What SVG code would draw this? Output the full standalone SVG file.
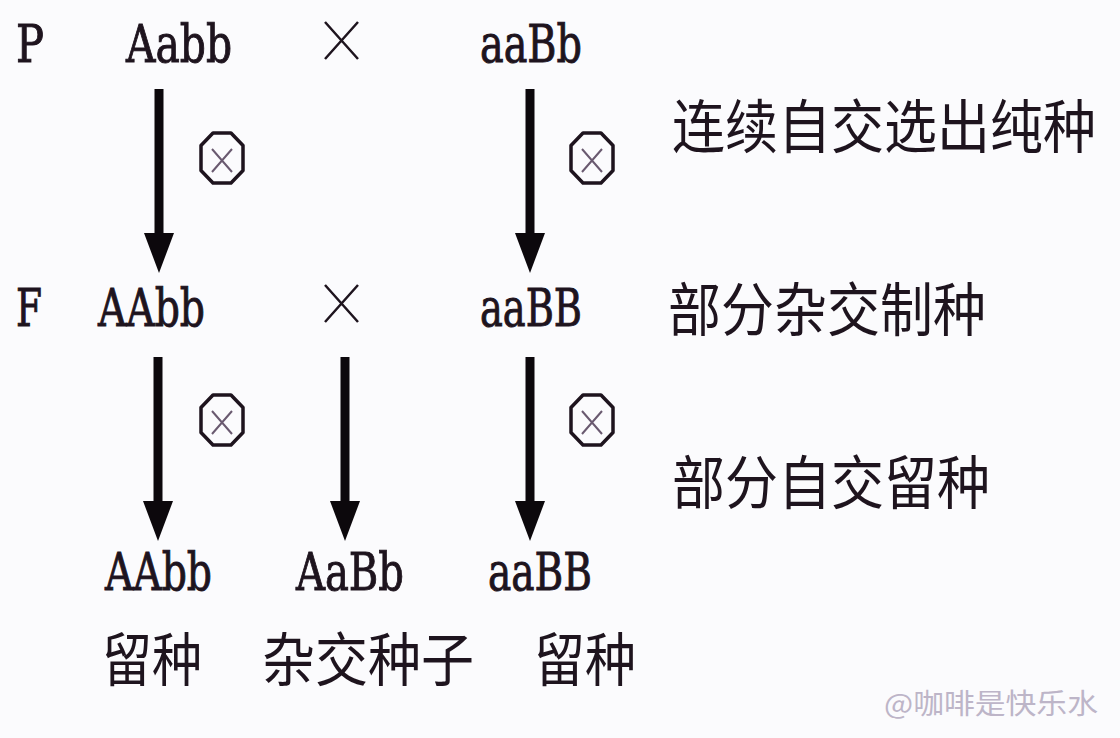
<svg xmlns="http://www.w3.org/2000/svg" width="1120" height="738" viewBox="0 0 1120 738">
<style>
.g{font-family:"DejaVu Serif","Liberation Serif",serif;font-stretch:condensed;font-size:52px;fill:#1e141e;stroke:#1e141e;stroke-width:0.9}
.c{font-family:"Noto Sans CJK SC","Noto Sans",sans-serif;font-size:53px;fill:#1e141e}
.wm{font-family:"Noto Sans CJK SC","Noto Sans",sans-serif;font-size:28px;fill:#bdb5c8}
.shaft{stroke:#0c080c;stroke-width:9;fill:none}
.oct{fill:none;stroke:#1e141e;stroke-width:3.5;stroke-linejoin:round}
.ox{stroke:#6a5a70;stroke-width:2;fill:none}
.cross{stroke:#1e141e;stroke-width:2.5;fill:none}
</style>
<defs>
<marker id="ah" viewBox="0 0 40 30" refX="0" refY="15" markerWidth="40" markerHeight="30" markerUnits="userSpaceOnUse" orient="auto">
<path d="M0,0 L40,15 L0,30 Z" fill="#0c080c"/>
</marker>
<g id="selfing">
<polygon class="oct" points="-9,-25 9,-25 21,-12.5 21,12.5 9,25 -9,25 -21,12.5 -21,-12.5"/>
<path class="ox" d="M-10,-9 L10,14 M10,-9 L-10,14"/>
</g>
</defs>
<rect width="1120" height="738" fill="#fbfbfd"/>

<g id="connectors">
<line class="shaft" x1="159" y1="89" x2="159" y2="233" marker-end="url(#ah)"/>
<line class="shaft" x1="530" y1="89" x2="530" y2="233" marker-end="url(#ah)"/>
<line class="shaft" x1="158" y1="357" x2="158" y2="501" marker-end="url(#ah)"/>
<line class="shaft" x1="345" y1="357" x2="345" y2="501" marker-end="url(#ah)"/>
<line class="shaft" x1="530" y1="357" x2="530" y2="501" marker-end="url(#ah)"/>
</g>

<g id="selfing-marks">
<use href="#selfing" x="222" y="158"/>
<use href="#selfing" x="592" y="158"/>
<use href="#selfing" x="222" y="420"/>
<use href="#selfing" x="592" y="420"/>
</g>

<g id="cross-marks">
<path class="cross" d="M325,22 L358,59 M358,22 L325,59"/>
<path class="cross" d="M325,285 L358,322 M358,285 L325,322"/>
</g>

<g id="row-P">
<text class="g" x="16" y="62" textLength="28" lengthAdjust="spacingAndGlyphs">P</text>
<text id="P1" class="g" x="126" y="62" textLength="106" lengthAdjust="spacingAndGlyphs">Aabb</text>
<text id="P2" class="g" x="480" y="62" textLength="102" lengthAdjust="spacingAndGlyphs">aaBb</text>
</g>

<g id="row-F">
<text class="g" x="16" y="326" textLength="26" lengthAdjust="spacingAndGlyphs">F</text>
<text id="F1" class="g" x="98" y="326" textLength="107" lengthAdjust="spacingAndGlyphs">AAbb</text>
<text id="F2" class="g" x="480" y="326" textLength="102" lengthAdjust="spacingAndGlyphs">aaBB</text>
</g>

<g id="row-F2">
<text id="O1" class="g" x="105" y="590" textLength="107" lengthAdjust="spacingAndGlyphs">AAbb</text>
<text id="O2" class="g" x="296" y="590" textLength="108" lengthAdjust="spacingAndGlyphs">AaBb</text>
<text id="O3" class="g" x="488" y="590" textLength="104" lengthAdjust="spacingAndGlyphs">aaBB</text>
</g>

<g id="labels">
<text class="c" transform="translate(672,148) scale(1,1.1)" x="0" y="0" textLength="424" lengthAdjust="spacingAndGlyphs">连续自交选出纯种</text>
<text class="c" transform="translate(668,331) scale(1,1.1)" x="0" y="0" textLength="318" lengthAdjust="spacingAndGlyphs">部分杂交制种</text>
<text class="c" transform="translate(672,504) scale(1,1.1)" x="0" y="0" textLength="318" lengthAdjust="spacingAndGlyphs">部分自交留种</text>
<text class="c" transform="translate(102,681) scale(1,1.1)" x="0" y="0" textLength="100" lengthAdjust="spacingAndGlyphs">留种</text>
<text class="c" transform="translate(262,681) scale(1,1.1)" x="0" y="0" textLength="212" lengthAdjust="spacingAndGlyphs">杂交种子</text>
<text class="c" transform="translate(534,681) scale(1,1.1)" x="0" y="0" textLength="102" lengthAdjust="spacingAndGlyphs">留种</text>
</g>

<g id="watermark">
<text class="wm" x="884" y="714" textLength="214" lengthAdjust="spacingAndGlyphs">@咖啡是快乐水</text>
</g>
</svg>
